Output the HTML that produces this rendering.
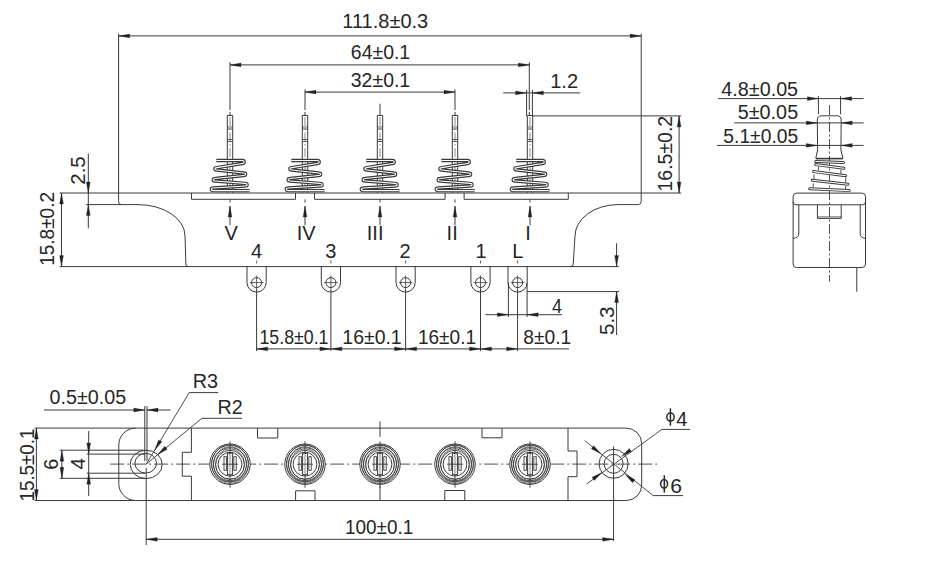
<!DOCTYPE html>
<html><head><meta charset="utf-8"><style>
html,body{margin:0;padding:0;background:#fff;}
svg{display:block;}
text{font-family:"Liberation Sans",sans-serif;fill:#262626;}
</style></head><body>
<svg width="945" height="569" viewBox="0 0 945 569">
<rect width="945" height="569" fill="#fff"/>
<line x1="118.60" y1="33.60" x2="118.60" y2="201.50" stroke="#3a3a3a" stroke-width="1.0" />
<path d="M118.6,201.5 Q118.6,204.6 121.6,204.6" stroke="#3a3a3a" stroke-width="1.0" fill="none" />
<line x1="641.20" y1="33.60" x2="641.20" y2="201.50" stroke="#3a3a3a" stroke-width="1.0" />
<path d="M641.2,201.5 Q641.2,204.6 638.2,204.6" stroke="#3a3a3a" stroke-width="1.0" fill="none" />
<line x1="118.60" y1="35.90" x2="641.20" y2="35.90" stroke="#3a3a3a" stroke-width="1.0" />
<path d="M118.60,35.90 L129.60,34.00 L129.60,37.80 Z" fill="#222" stroke="#222" stroke-width="0.3"/>
<path d="M641.20,35.90 L630.20,37.80 L630.20,34.00 Z" fill="#222" stroke="#222" stroke-width="0.3"/>
<text x="342.32" y="28.00" font-size="20" text-anchor="start" textLength="85.93" lengthAdjust="spacingAndGlyphs">111.8±0.3</text>
<line x1="230.00" y1="62.20" x2="230.00" y2="110.00" stroke="#3a3a3a" stroke-width="1.0" />
<line x1="230.00" y1="112.00" x2="230.00" y2="115.50" stroke="#3a3a3a" stroke-width="1.0" />
<line x1="529.30" y1="62.20" x2="529.30" y2="110.00" stroke="#3a3a3a" stroke-width="1.0" />
<line x1="529.30" y1="112.00" x2="529.30" y2="116.00" stroke="#3a3a3a" stroke-width="1.0" />
<line x1="230.00" y1="64.90" x2="529.30" y2="64.90" stroke="#3a3a3a" stroke-width="1.0" />
<path d="M230.00,64.90 L241.00,63.00 L241.00,66.80 Z" fill="#222" stroke="#222" stroke-width="0.3"/>
<path d="M529.30,64.90 L518.30,66.80 L518.30,63.00 Z" fill="#222" stroke="#222" stroke-width="0.3"/>
<text x="350.85" y="59.40" font-size="20" text-anchor="start" textLength="59.33" lengthAdjust="spacingAndGlyphs">64±0.1</text>
<line x1="305.00" y1="89.50" x2="305.00" y2="110.00" stroke="#3a3a3a" stroke-width="1.0" />
<line x1="455.00" y1="89.50" x2="455.00" y2="110.00" stroke="#3a3a3a" stroke-width="1.0" />
<line x1="305.00" y1="112.00" x2="305.00" y2="115.50" stroke="#3a3a3a" stroke-width="1.0" />
<line x1="455.00" y1="112.00" x2="455.00" y2="115.50" stroke="#3a3a3a" stroke-width="1.0" />
<line x1="380.00" y1="103.70" x2="380.00" y2="115.50" stroke="#3a3a3a" stroke-width="1.0" />
<line x1="305.00" y1="92.10" x2="455.00" y2="92.10" stroke="#3a3a3a" stroke-width="1.0" />
<path d="M305.00,92.10 L316.00,90.20 L316.00,94.00 Z" fill="#222" stroke="#222" stroke-width="0.3"/>
<path d="M455.00,92.10 L444.00,94.00 L444.00,90.20 Z" fill="#222" stroke="#222" stroke-width="0.3"/>
<text x="350.81" y="86.80" font-size="20" text-anchor="start" textLength="59.39" lengthAdjust="spacingAndGlyphs">32±0.1</text>
<line x1="526.60" y1="89.90" x2="526.60" y2="116.00" stroke="#3a3a3a" stroke-width="1.0" />
<line x1="532.40" y1="89.90" x2="532.40" y2="116.00" stroke="#3a3a3a" stroke-width="1.0" />
<line x1="503.20" y1="92.90" x2="580.20" y2="92.90" stroke="#3a3a3a" stroke-width="1.0" />
<path d="M526.60,92.90 L515.60,94.80 L515.60,91.00 Z" fill="#222" stroke="#222" stroke-width="0.3"/>
<path d="M532.40,92.90 L543.40,91.00 L543.40,94.80 Z" fill="#222" stroke="#222" stroke-width="0.3"/>
<text x="550.15" y="88.20" font-size="20" text-anchor="start" textLength="27.96" lengthAdjust="spacingAndGlyphs">1.2</text>
<line x1="532.40" y1="115.90" x2="681.20" y2="115.90" stroke="#3a3a3a" stroke-width="1.0" />
<line x1="641.20" y1="193.00" x2="681.20" y2="193.00" stroke="#3a3a3a" stroke-width="1.0" />
<line x1="679.10" y1="115.90" x2="679.10" y2="193.00" stroke="#3a3a3a" stroke-width="1.0" />
<path d="M679.10,115.90 L681.00,126.90 L677.20,126.90 Z" fill="#222" stroke="#222" stroke-width="0.3"/>
<path d="M679.10,193.00 L677.20,182.00 L681.00,182.00 Z" fill="#222" stroke="#222" stroke-width="0.3"/>
<text x="672.10" y="191.46" font-size="20" text-anchor="start" textLength="75.63" lengthAdjust="spacingAndGlyphs" transform="rotate(-90 672.10 191.46)">16.5±0.2</text>
<path d="M227.3,192.8 L227.3,115.5 L232.7,115.5 L232.7,192.8" stroke="#3a3a3a" stroke-width="1.0" fill="none" />
<line x1="227.30" y1="127.00" x2="232.70" y2="127.00" stroke="#3a3a3a" stroke-width="0.8" />
<line x1="227.30" y1="129.00" x2="232.70" y2="129.00" stroke="#3a3a3a" stroke-width="0.8" />
<line x1="227.30" y1="139.50" x2="232.70" y2="139.50" stroke="#3a3a3a" stroke-width="0.8" />
<line x1="227.30" y1="141.50" x2="232.70" y2="141.50" stroke="#3a3a3a" stroke-width="0.8" />
<line x1="230.00" y1="117.00" x2="230.00" y2="192.00" stroke="#3a3a3a" stroke-width="0.6" stroke-dasharray="9 2.5 1.5 2.5"/>
<path d="M216.3,160.5 L242.3,160.5 C244.9,160.5 244.9,163.5 242.3,163.5 L216.8,167.6 C214.2,167.6 214.2,170.0 216.8,170.0 L243.7,173.0 C246.3,173.0 246.3,175.5 243.7,175.5 L215.1,178.5 C212.5,178.5 212.5,181.0 215.1,181.0 L245.2,183.4 C247.8,183.4 247.8,186.0 245.2,186.0 L213.2,188.0 C210.6,188.0 210.6,190.6 213.2,190.6 L249.5,190.6" stroke="#3a3a3a" stroke-width="3.3" fill="none" stroke-linejoin="round" stroke-linecap="butt"/>
<path d="M216.3,160.5 L242.3,160.5 C244.9,160.5 244.9,163.5 242.3,163.5 L216.8,167.6 C214.2,167.6 214.2,170.0 216.8,170.0 L243.7,173.0 C246.3,173.0 246.3,175.5 243.7,175.5 L215.1,178.5 C212.5,178.5 212.5,181.0 215.1,181.0 L245.2,183.4 C247.8,183.4 247.8,186.0 245.2,186.0 L213.2,188.0 C210.6,188.0 210.6,190.6 213.2,190.6 L249.5,190.6" stroke="#ffffff" stroke-width="1.15" fill="none" stroke-linejoin="round" stroke-linecap="butt"/>
<path d="M302.3,192.8 L302.3,115.5 L307.7,115.5 L307.7,192.8" stroke="#3a3a3a" stroke-width="1.0" fill="none" />
<line x1="302.30" y1="127.00" x2="307.70" y2="127.00" stroke="#3a3a3a" stroke-width="0.8" />
<line x1="302.30" y1="129.00" x2="307.70" y2="129.00" stroke="#3a3a3a" stroke-width="0.8" />
<line x1="302.30" y1="139.50" x2="307.70" y2="139.50" stroke="#3a3a3a" stroke-width="0.8" />
<line x1="302.30" y1="141.50" x2="307.70" y2="141.50" stroke="#3a3a3a" stroke-width="0.8" />
<line x1="305.00" y1="117.00" x2="305.00" y2="192.00" stroke="#3a3a3a" stroke-width="0.6" stroke-dasharray="9 2.5 1.5 2.5"/>
<path d="M291.3,160.5 L317.3,160.5 C319.9,160.5 319.9,163.5 317.3,163.5 L291.8,167.6 C289.2,167.6 289.2,170.0 291.8,170.0 L318.7,173.0 C321.3,173.0 321.3,175.5 318.7,175.5 L290.1,178.5 C287.5,178.5 287.5,181.0 290.1,181.0 L320.2,183.4 C322.8,183.4 322.8,186.0 320.2,186.0 L288.2,188.0 C285.6,188.0 285.6,190.6 288.2,190.6 L324.5,190.6" stroke="#3a3a3a" stroke-width="3.3" fill="none" stroke-linejoin="round" stroke-linecap="butt"/>
<path d="M291.3,160.5 L317.3,160.5 C319.9,160.5 319.9,163.5 317.3,163.5 L291.8,167.6 C289.2,167.6 289.2,170.0 291.8,170.0 L318.7,173.0 C321.3,173.0 321.3,175.5 318.7,175.5 L290.1,178.5 C287.5,178.5 287.5,181.0 290.1,181.0 L320.2,183.4 C322.8,183.4 322.8,186.0 320.2,186.0 L288.2,188.0 C285.6,188.0 285.6,190.6 288.2,190.6 L324.5,190.6" stroke="#ffffff" stroke-width="1.15" fill="none" stroke-linejoin="round" stroke-linecap="butt"/>
<path d="M377.3,192.8 L377.3,115.5 L382.7,115.5 L382.7,192.8" stroke="#3a3a3a" stroke-width="1.0" fill="none" />
<line x1="377.30" y1="127.00" x2="382.70" y2="127.00" stroke="#3a3a3a" stroke-width="0.8" />
<line x1="377.30" y1="129.00" x2="382.70" y2="129.00" stroke="#3a3a3a" stroke-width="0.8" />
<line x1="377.30" y1="139.50" x2="382.70" y2="139.50" stroke="#3a3a3a" stroke-width="0.8" />
<line x1="377.30" y1="141.50" x2="382.70" y2="141.50" stroke="#3a3a3a" stroke-width="0.8" />
<line x1="380.00" y1="117.00" x2="380.00" y2="192.00" stroke="#3a3a3a" stroke-width="0.6" stroke-dasharray="9 2.5 1.5 2.5"/>
<path d="M366.3,160.5 L392.3,160.5 C394.9,160.5 394.9,163.5 392.3,163.5 L366.8,167.6 C364.2,167.6 364.2,170.0 366.8,170.0 L393.7,173.0 C396.3,173.0 396.3,175.5 393.7,175.5 L365.1,178.5 C362.5,178.5 362.5,181.0 365.1,181.0 L395.2,183.4 C397.8,183.4 397.8,186.0 395.2,186.0 L363.2,188.0 C360.6,188.0 360.6,190.6 363.2,190.6 L399.5,190.6" stroke="#3a3a3a" stroke-width="3.3" fill="none" stroke-linejoin="round" stroke-linecap="butt"/>
<path d="M366.3,160.5 L392.3,160.5 C394.9,160.5 394.9,163.5 392.3,163.5 L366.8,167.6 C364.2,167.6 364.2,170.0 366.8,170.0 L393.7,173.0 C396.3,173.0 396.3,175.5 393.7,175.5 L365.1,178.5 C362.5,178.5 362.5,181.0 365.1,181.0 L395.2,183.4 C397.8,183.4 397.8,186.0 395.2,186.0 L363.2,188.0 C360.6,188.0 360.6,190.6 363.2,190.6 L399.5,190.6" stroke="#ffffff" stroke-width="1.15" fill="none" stroke-linejoin="round" stroke-linecap="butt"/>
<path d="M452.3,192.8 L452.3,115.5 L457.7,115.5 L457.7,192.8" stroke="#3a3a3a" stroke-width="1.0" fill="none" />
<line x1="452.30" y1="127.00" x2="457.70" y2="127.00" stroke="#3a3a3a" stroke-width="0.8" />
<line x1="452.30" y1="129.00" x2="457.70" y2="129.00" stroke="#3a3a3a" stroke-width="0.8" />
<line x1="452.30" y1="139.50" x2="457.70" y2="139.50" stroke="#3a3a3a" stroke-width="0.8" />
<line x1="452.30" y1="141.50" x2="457.70" y2="141.50" stroke="#3a3a3a" stroke-width="0.8" />
<line x1="455.00" y1="117.00" x2="455.00" y2="192.00" stroke="#3a3a3a" stroke-width="0.6" stroke-dasharray="9 2.5 1.5 2.5"/>
<path d="M441.3,160.5 L467.3,160.5 C469.9,160.5 469.9,163.5 467.3,163.5 L441.8,167.6 C439.2,167.6 439.2,170.0 441.8,170.0 L468.7,173.0 C471.3,173.0 471.3,175.5 468.7,175.5 L440.1,178.5 C437.5,178.5 437.5,181.0 440.1,181.0 L470.2,183.4 C472.8,183.4 472.8,186.0 470.2,186.0 L438.2,188.0 C435.6,188.0 435.6,190.6 438.2,190.6 L474.5,190.6" stroke="#3a3a3a" stroke-width="3.3" fill="none" stroke-linejoin="round" stroke-linecap="butt"/>
<path d="M441.3,160.5 L467.3,160.5 C469.9,160.5 469.9,163.5 467.3,163.5 L441.8,167.6 C439.2,167.6 439.2,170.0 441.8,170.0 L468.7,173.0 C471.3,173.0 471.3,175.5 468.7,175.5 L440.1,178.5 C437.5,178.5 437.5,181.0 440.1,181.0 L470.2,183.4 C472.8,183.4 472.8,186.0 470.2,186.0 L438.2,188.0 C435.6,188.0 435.6,190.6 438.2,190.6 L474.5,190.6" stroke="#ffffff" stroke-width="1.15" fill="none" stroke-linejoin="round" stroke-linecap="butt"/>
<path d="M527.3,192.8 L527.3,115.5 L532.7,115.5 L532.7,192.8" stroke="#3a3a3a" stroke-width="1.0" fill="none" />
<line x1="527.30" y1="127.00" x2="532.70" y2="127.00" stroke="#3a3a3a" stroke-width="0.8" />
<line x1="527.30" y1="129.00" x2="532.70" y2="129.00" stroke="#3a3a3a" stroke-width="0.8" />
<line x1="527.30" y1="139.50" x2="532.70" y2="139.50" stroke="#3a3a3a" stroke-width="0.8" />
<line x1="527.30" y1="141.50" x2="532.70" y2="141.50" stroke="#3a3a3a" stroke-width="0.8" />
<line x1="530.00" y1="117.00" x2="530.00" y2="192.00" stroke="#3a3a3a" stroke-width="0.6" stroke-dasharray="9 2.5 1.5 2.5"/>
<path d="M516.3,160.5 L542.3,160.5 C544.9,160.5 544.9,163.5 542.3,163.5 L516.8,167.6 C514.2,167.6 514.2,170.0 516.8,170.0 L543.7,173.0 C546.3,173.0 546.3,175.5 543.7,175.5 L515.1,178.5 C512.5,178.5 512.5,181.0 515.1,181.0 L545.2,183.4 C547.8,183.4 547.8,186.0 545.2,186.0 L513.2,188.0 C510.6,188.0 510.6,190.6 513.2,190.6 L549.5,190.6" stroke="#3a3a3a" stroke-width="3.3" fill="none" stroke-linejoin="round" stroke-linecap="butt"/>
<path d="M516.3,160.5 L542.3,160.5 C544.9,160.5 544.9,163.5 542.3,163.5 L516.8,167.6 C514.2,167.6 514.2,170.0 516.8,170.0 L543.7,173.0 C546.3,173.0 546.3,175.5 543.7,175.5 L515.1,178.5 C512.5,178.5 512.5,181.0 515.1,181.0 L545.2,183.4 C547.8,183.4 547.8,186.0 545.2,186.0 L513.2,188.0 C510.6,188.0 510.6,190.6 513.2,190.6 L549.5,190.6" stroke="#ffffff" stroke-width="1.15" fill="none" stroke-linejoin="round" stroke-linecap="butt"/>
<line x1="59.60" y1="193.00" x2="641.20" y2="193.00" stroke="#3a3a3a" stroke-width="1.0" />
<path d="M191.5,193 L191.5,199.3 L295.5,199.3 L295.5,193" stroke="#3a3a3a" stroke-width="1.0" fill="none" />
<path d="M314.5,193 L314.5,199.3 L445.1,199.3 L445.1,193" stroke="#3a3a3a" stroke-width="1.0" fill="none" />
<path d="M464.1,193 L464.1,199.3 L568.3,199.3 L568.3,193" stroke="#3a3a3a" stroke-width="1.0" fill="none" />
<path d="M121.6,204.6 L138,204.6 A47,31.3 0 0 1 185,235.9 L185.9,265 Q186.2,266.6 189,266.6" stroke="#3a3a3a" stroke-width="1.0" fill="none" />
<path d="M638.2,204.6 L618,204.6 A43,31.6 0 0 0 575,236.2 L573.2,264.3 Q572.8,266.6 570,266.6" stroke="#3a3a3a" stroke-width="1.0" fill="none" />
<line x1="86.10" y1="204.60" x2="121.60" y2="204.60" stroke="#3a3a3a" stroke-width="1.0" />
<line x1="59.60" y1="266.60" x2="618.80" y2="266.60" stroke="#3a3a3a" stroke-width="1.0" />
<line x1="61.50" y1="193.00" x2="61.50" y2="266.60" stroke="#3a3a3a" stroke-width="1.0" />
<path d="M61.50,193.00 L63.40,204.00 L59.60,204.00 Z" fill="#222" stroke="#222" stroke-width="0.3"/>
<path d="M61.50,266.60 L59.60,255.60 L63.40,255.60 Z" fill="#222" stroke="#222" stroke-width="0.3"/>
<text x="53.80" y="265.87" font-size="20" text-anchor="start" textLength="73.91" lengthAdjust="spacingAndGlyphs" transform="rotate(-90 53.80 265.87)">15.8±0.2</text>
<line x1="88.30" y1="153.50" x2="88.30" y2="228.30" stroke="#3a3a3a" stroke-width="1.0" />
<path d="M88.30,193.00 L86.40,182.00 L90.20,182.00 Z" fill="#222" stroke="#222" stroke-width="0.3"/>
<path d="M88.30,204.60 L90.20,215.60 L86.40,215.60 Z" fill="#222" stroke="#222" stroke-width="0.3"/>
<text x="84.90" y="184.75" font-size="20" text-anchor="start" textLength="28.50" lengthAdjust="spacingAndGlyphs" transform="rotate(-90 84.90 184.75)">2.5</text>
<line x1="230.00" y1="199.30" x2="230.00" y2="202.60" stroke="#3a3a3a" stroke-width="0.9" />
<line x1="230.00" y1="206.00" x2="230.00" y2="225.30" stroke="#3a3a3a" stroke-width="1.0" />
<path d="M230.00,206.00 L231.90,217.00 L228.10,217.00 Z" fill="#222" stroke="#222" stroke-width="0.3"/>
<text x="224.40" y="240.30" font-size="20" text-anchor="start" textLength="13.34" lengthAdjust="spacingAndGlyphs">V</text>
<line x1="305.00" y1="199.30" x2="305.00" y2="202.60" stroke="#3a3a3a" stroke-width="0.9" />
<line x1="305.00" y1="206.00" x2="305.00" y2="225.30" stroke="#3a3a3a" stroke-width="1.0" />
<path d="M305.00,206.00 L306.90,217.00 L303.10,217.00 Z" fill="#222" stroke="#222" stroke-width="0.3"/>
<text x="296.80" y="240.30" font-size="20" text-anchor="start" textLength="18.90" lengthAdjust="spacingAndGlyphs">IV</text>
<line x1="380.00" y1="199.30" x2="380.00" y2="202.60" stroke="#3a3a3a" stroke-width="0.9" />
<line x1="380.00" y1="206.00" x2="380.00" y2="225.30" stroke="#3a3a3a" stroke-width="1.0" />
<path d="M380.00,206.00 L381.90,217.00 L378.10,217.00 Z" fill="#222" stroke="#222" stroke-width="0.3"/>
<text x="366.80" y="240.30" font-size="20" text-anchor="start" textLength="16.67" lengthAdjust="spacingAndGlyphs">III</text>
<line x1="455.00" y1="199.30" x2="455.00" y2="202.60" stroke="#3a3a3a" stroke-width="0.9" />
<line x1="455.00" y1="206.00" x2="455.00" y2="225.30" stroke="#3a3a3a" stroke-width="1.0" />
<path d="M455.00,206.00 L456.90,217.00 L453.10,217.00 Z" fill="#222" stroke="#222" stroke-width="0.3"/>
<text x="446.60" y="240.30" font-size="20" text-anchor="start" textLength="11.11" lengthAdjust="spacingAndGlyphs">II</text>
<line x1="530.00" y1="199.30" x2="530.00" y2="202.60" stroke="#3a3a3a" stroke-width="0.9" />
<line x1="530.00" y1="206.00" x2="530.00" y2="225.30" stroke="#3a3a3a" stroke-width="1.0" />
<path d="M530.00,206.00 L531.90,217.00 L528.10,217.00 Z" fill="#222" stroke="#222" stroke-width="0.3"/>
<text x="525.20" y="240.30" font-size="20" text-anchor="start" textLength="5.56" lengthAdjust="spacingAndGlyphs">I</text>
<path d="M247.00000000000003,266.6 L247.00000000000003,282.5 A9.6,9.6 0 0 0 266.20000000000005,282.5 L266.20000000000005,266.6" stroke="#3a3a3a" stroke-width="1.0" fill="none" />
<circle cx="256.6" cy="282.6" r="5" stroke="#3a3a3a" stroke-width="1" fill="none"/>
<line x1="249.80" y1="282.60" x2="263.40" y2="282.60" stroke="#3a3a3a" stroke-width="0.8" />
<line x1="256.60" y1="275.50" x2="256.60" y2="289.00" stroke="#3a3a3a" stroke-width="0.8" />
<text x="250.90" y="257.60" font-size="20" text-anchor="start" textLength="11.12" lengthAdjust="spacingAndGlyphs">4</text>
<line x1="256.60" y1="260.50" x2="256.60" y2="263.50" stroke="#3a3a3a" stroke-width="0.8" />
<line x1="256.60" y1="289.00" x2="256.60" y2="351.00" stroke="#3a3a3a" stroke-width="1.0" />
<path d="M321.29999999999995,266.6 L321.29999999999995,282.5 A9.6,9.6 0 0 0 340.5,282.5 L340.5,266.6" stroke="#3a3a3a" stroke-width="1.0" fill="none" />
<circle cx="330.9" cy="282.6" r="5" stroke="#3a3a3a" stroke-width="1" fill="none"/>
<line x1="324.10" y1="282.60" x2="337.70" y2="282.60" stroke="#3a3a3a" stroke-width="0.8" />
<line x1="330.90" y1="275.50" x2="330.90" y2="289.00" stroke="#3a3a3a" stroke-width="0.8" />
<text x="325.30" y="257.60" font-size="20" text-anchor="start" textLength="11.12" lengthAdjust="spacingAndGlyphs">3</text>
<line x1="330.90" y1="260.50" x2="330.90" y2="263.50" stroke="#3a3a3a" stroke-width="0.8" />
<line x1="330.90" y1="289.00" x2="330.90" y2="351.00" stroke="#3a3a3a" stroke-width="1.0" />
<path d="M396.0,266.6 L396.0,282.5 A9.6,9.6 0 0 0 415.20000000000005,282.5 L415.20000000000005,266.6" stroke="#3a3a3a" stroke-width="1.0" fill="none" />
<circle cx="405.6" cy="282.6" r="5" stroke="#3a3a3a" stroke-width="1" fill="none"/>
<line x1="398.80" y1="282.60" x2="412.40" y2="282.60" stroke="#3a3a3a" stroke-width="0.8" />
<line x1="405.60" y1="275.50" x2="405.60" y2="289.00" stroke="#3a3a3a" stroke-width="0.8" />
<text x="399.60" y="257.60" font-size="20" text-anchor="start" textLength="11.12" lengthAdjust="spacingAndGlyphs">2</text>
<line x1="405.60" y1="260.50" x2="405.60" y2="263.50" stroke="#3a3a3a" stroke-width="0.8" />
<line x1="405.60" y1="289.00" x2="405.60" y2="351.00" stroke="#3a3a3a" stroke-width="1.0" />
<path d="M470.9,266.6 L470.9,282.5 A9.6,9.6 0 0 0 490.1,282.5 L490.1,266.6" stroke="#3a3a3a" stroke-width="1.0" fill="none" />
<circle cx="480.5" cy="282.6" r="5" stroke="#3a3a3a" stroke-width="1" fill="none"/>
<line x1="473.70" y1="282.60" x2="487.30" y2="282.60" stroke="#3a3a3a" stroke-width="0.8" />
<line x1="480.50" y1="275.50" x2="480.50" y2="289.00" stroke="#3a3a3a" stroke-width="0.8" />
<text x="475.50" y="257.60" font-size="20" text-anchor="start" textLength="11.12" lengthAdjust="spacingAndGlyphs">1</text>
<line x1="480.50" y1="260.50" x2="480.50" y2="263.50" stroke="#3a3a3a" stroke-width="0.8" />
<line x1="480.50" y1="289.00" x2="480.50" y2="351.00" stroke="#3a3a3a" stroke-width="1.0" />
<path d="M508.0,266.6 L508.0,282.5 A9.6,9.6 0 0 0 527.2,282.5 L527.2,266.6" stroke="#3a3a3a" stroke-width="1.0" fill="none" />
<circle cx="517.6" cy="282.6" r="5" stroke="#3a3a3a" stroke-width="1" fill="none"/>
<line x1="510.80" y1="282.60" x2="524.40" y2="282.60" stroke="#3a3a3a" stroke-width="0.8" />
<line x1="517.60" y1="275.50" x2="517.60" y2="289.00" stroke="#3a3a3a" stroke-width="0.8" />
<text x="512.20" y="257.60" font-size="20" text-anchor="start" textLength="11.12" lengthAdjust="spacingAndGlyphs">L</text>
<line x1="517.60" y1="260.50" x2="517.60" y2="263.50" stroke="#3a3a3a" stroke-width="0.8" />
<line x1="517.60" y1="289.00" x2="517.60" y2="351.00" stroke="#3a3a3a" stroke-width="1.0" />
<line x1="256.60" y1="348.90" x2="517.60" y2="348.90" stroke="#3a3a3a" stroke-width="1.0" />
<path d="M256.60,348.90 L267.60,347.00 L267.60,350.80 Z" fill="#222" stroke="#222" stroke-width="0.3"/>
<path d="M330.90,348.90 L319.90,350.80 L319.90,347.00 Z" fill="#222" stroke="#222" stroke-width="0.3"/>
<path d="M330.90,348.90 L341.90,347.00 L341.90,350.80 Z" fill="#222" stroke="#222" stroke-width="0.3"/>
<path d="M405.60,348.90 L394.60,350.80 L394.60,347.00 Z" fill="#222" stroke="#222" stroke-width="0.3"/>
<path d="M405.60,348.90 L416.60,347.00 L416.60,350.80 Z" fill="#222" stroke="#222" stroke-width="0.3"/>
<path d="M480.50,348.90 L469.50,350.80 L469.50,347.00 Z" fill="#222" stroke="#222" stroke-width="0.3"/>
<path d="M480.50,348.90 L491.50,347.00 L491.50,350.80 Z" fill="#222" stroke="#222" stroke-width="0.3"/>
<path d="M517.60,348.90 L506.60,350.80 L506.60,347.00 Z" fill="#222" stroke="#222" stroke-width="0.3"/>
<line x1="517.60" y1="348.90" x2="569.00" y2="348.90" stroke="#3a3a3a" stroke-width="1.0" />
<text x="259.51" y="344.00" font-size="20" text-anchor="start" textLength="68.98" lengthAdjust="spacingAndGlyphs">15.8±0.1</text>
<text x="342.34" y="344.00" font-size="20" text-anchor="start" textLength="59.34" lengthAdjust="spacingAndGlyphs">16±0.1</text>
<text x="417.96" y="344.00" font-size="20" text-anchor="start" textLength="58.07" lengthAdjust="spacingAndGlyphs">16±0.1</text>
<text x="523.32" y="344.00" font-size="20" text-anchor="start" textLength="47.96" lengthAdjust="spacingAndGlyphs">8±0.1</text>
<line x1="508.40" y1="282.50" x2="508.40" y2="317.00" stroke="#3a3a3a" stroke-width="1.0" />
<line x1="527.10" y1="282.50" x2="527.10" y2="317.00" stroke="#3a3a3a" stroke-width="1.0" />
<line x1="485.30" y1="314.70" x2="562.00" y2="314.70" stroke="#3a3a3a" stroke-width="1.0" />
<path d="M508.40,314.70 L497.40,316.60 L497.40,312.80 Z" fill="#222" stroke="#222" stroke-width="0.3"/>
<path d="M527.10,314.70 L538.10,312.80 L538.10,316.60 Z" fill="#222" stroke="#222" stroke-width="0.3"/>
<text x="552.00" y="313.10" font-size="20" text-anchor="start" textLength="10.00" lengthAdjust="spacingAndGlyphs">4</text>
<line x1="527.10" y1="291.60" x2="619.00" y2="291.60" stroke="#3a3a3a" stroke-width="1.0" />
<line x1="616.60" y1="243.20" x2="616.60" y2="266.60" stroke="#3a3a3a" stroke-width="1.0" />
<path d="M616.60,266.60 L614.70,255.60 L618.50,255.60 Z" fill="#222" stroke="#222" stroke-width="0.3"/>
<line x1="616.60" y1="291.60" x2="616.60" y2="335.00" stroke="#3a3a3a" stroke-width="1.0" />
<path d="M616.60,291.60 L618.50,302.60 L614.70,302.60 Z" fill="#222" stroke="#222" stroke-width="0.3"/>
<text x="614.20" y="335.08" font-size="20" text-anchor="start" textLength="28.70" lengthAdjust="spacingAndGlyphs" transform="rotate(-90 614.20 335.08)">5.3</text>
<text x="721.36" y="95.70" font-size="20" text-anchor="start" textLength="76.76" lengthAdjust="spacingAndGlyphs">4.8±0.05</text>
<line x1="718.20" y1="98.60" x2="863.60" y2="98.60" stroke="#3a3a3a" stroke-width="1.0" />
<path d="M818.40,98.60 L807.40,100.50 L807.40,96.70 Z" fill="#222" stroke="#222" stroke-width="0.3"/>
<path d="M840.60,98.60 L851.60,96.70 L851.60,100.50 Z" fill="#222" stroke="#222" stroke-width="0.3"/>
<text x="737.76" y="118.50" font-size="20" text-anchor="start" textLength="60.39" lengthAdjust="spacingAndGlyphs">5±0.05</text>
<line x1="734.30" y1="122.90" x2="863.60" y2="122.90" stroke="#3a3a3a" stroke-width="1.0" />
<path d="M817.30,122.90 L806.30,124.80 L806.30,121.00 Z" fill="#222" stroke="#222" stroke-width="0.3"/>
<path d="M841.20,122.90 L852.20,121.00 L852.20,124.80 Z" fill="#222" stroke="#222" stroke-width="0.3"/>
<text x="723.36" y="143.30" font-size="20" text-anchor="start" textLength="74.80" lengthAdjust="spacingAndGlyphs">5.1±0.05</text>
<line x1="717.00" y1="145.40" x2="863.60" y2="145.40" stroke="#3a3a3a" stroke-width="1.0" />
<path d="M817.30,145.40 L806.30,147.30 L806.30,143.50 Z" fill="#222" stroke="#222" stroke-width="0.3"/>
<path d="M841.20,145.40 L852.20,143.50 L852.20,147.30 Z" fill="#222" stroke="#222" stroke-width="0.3"/>
<line x1="818.40" y1="96.10" x2="818.40" y2="114.30" stroke="#3a3a3a" stroke-width="1.0" />
<line x1="840.60" y1="96.10" x2="840.60" y2="114.30" stroke="#3a3a3a" stroke-width="1.0" />
<path d="M817.6,150 L817.3,120 Q817.3,115.8 821.5,115.8 L837,115.8 Q841.2,115.8 841.2,120 L840.9,150 L843,158.3 M817.6,150 L815.8,158.3" stroke="#3a3a3a" stroke-width="1.0" fill="none" />
<line x1="815.80" y1="158.60" x2="843.00" y2="158.60" stroke="#3a3a3a" stroke-width="1.6" />
<line x1="829.50" y1="105.00" x2="829.50" y2="281.50" stroke="#3a3a3a" stroke-width="0.9" stroke-dasharray="10 2.5 2 2.5"/>
<path d="M815.8,161.5 L843.5,162.5" stroke="#3a3a3a" stroke-width="3.0" fill="none" stroke-linecap="round"/>
<path d="M815.8,161.5 L843.5,162.5" stroke="#ffffff" stroke-width="1.1" fill="none" stroke-linecap="round"/>
<path d="M815.8,164.6 L843.9,168.2" stroke="#3a3a3a" stroke-width="3.0" fill="none" stroke-linecap="round"/>
<path d="M815.8,164.6 L843.9,168.2" stroke="#ffffff" stroke-width="1.1" fill="none" stroke-linecap="round"/>
<path d="M813.6,171.6 L845.7,175.8" stroke="#3a3a3a" stroke-width="3.0" fill="none" stroke-linecap="round"/>
<path d="M813.6,171.6 L845.7,175.8" stroke="#ffffff" stroke-width="1.1" fill="none" stroke-linecap="round"/>
<path d="M812.3,180.2 L847.9,184.2" stroke="#3a3a3a" stroke-width="3.0" fill="none" stroke-linecap="round"/>
<path d="M812.3,180.2 L847.9,184.2" stroke="#ffffff" stroke-width="1.1" fill="none" stroke-linecap="round"/>
<path d="M809.7,188.8 L849.2,190.6" stroke="#3a3a3a" stroke-width="3.0" fill="none" stroke-linecap="round"/>
<path d="M809.7,188.8 L849.2,190.6" stroke="#ffffff" stroke-width="1.1" fill="none" stroke-linecap="round"/>
<line x1="818.50" y1="166.50" x2="818.50" y2="170.20" stroke="#3a3a3a" stroke-width="0.9" />
<line x1="840.90" y1="169.80" x2="840.90" y2="174.00" stroke="#3a3a3a" stroke-width="0.9" />
<line x1="814.00" y1="174.60" x2="814.00" y2="179.00" stroke="#3a3a3a" stroke-width="0.9" />
<line x1="845.70" y1="177.50" x2="845.70" y2="182.50" stroke="#3a3a3a" stroke-width="0.9" />
<line x1="813.20" y1="183.40" x2="813.20" y2="187.50" stroke="#3a3a3a" stroke-width="0.9" />
<line x1="845.70" y1="186.00" x2="845.70" y2="189.00" stroke="#3a3a3a" stroke-width="0.9" />
<path d="M796.6,193.1 L862,193.1 Q865.5,193.1 865.5,196.6 L865.5,264 Q865.5,267.5 862,267.5 L796.6,267.5 Q793.1,267.5 793.1,264 L793.1,196.6 Q793.1,193.1 796.6,193.1 Z" stroke="#3a3a3a" stroke-width="1.0" fill="none" />
<path d="M793.1,201.8 Q793.1,204.8 796.1,204.8 L862.5,204.8 Q865.5,204.8 865.5,201.8" stroke="#3a3a3a" stroke-width="1.0" fill="none" />
<path d="M798.8,204.8 L798.8,234 Q798.8,237.5 793.1,238.5" stroke="#3a3a3a" stroke-width="1.0" fill="none" />
<path d="M860.2,204.8 L860.2,234 Q860.2,237.5 865.5,238.5" stroke="#3a3a3a" stroke-width="1.0" fill="none" />
<path d="M817.4,204.8 L817.4,218.4 L841.2,218.4 L841.2,204.8" stroke="#3a3a3a" stroke-width="1.0" fill="none" />
<line x1="817.40" y1="216.90" x2="841.20" y2="216.90" stroke="#3a3a3a" stroke-width="0.8" />
<line x1="856.80" y1="267.20" x2="856.80" y2="291.80" stroke="#3a3a3a" stroke-width="1.0" />
<path d="M135.6,428.1 L626.2,428.1 A15.5,15.5 0 0 1 641.7,443.6 L641.7,485 A15.5,15.5 0 0 1 626.2,500.5 L135.6,500.5 A17,17 0 0 1 118.8,483.5 L118.8,445.1 A17,17 0 0 1 135.6,428.1 Z" stroke="#3a3a3a" stroke-width="1.0" fill="none" />
<line x1="34.50" y1="428.10" x2="135.60" y2="428.10" stroke="#3a3a3a" stroke-width="1.0" />
<line x1="34.50" y1="500.50" x2="135.60" y2="500.50" stroke="#3a3a3a" stroke-width="1.0" />
<line x1="36.40" y1="428.10" x2="36.40" y2="500.50" stroke="#3a3a3a" stroke-width="1.0" />
<path d="M36.40,428.10 L38.30,439.10 L34.50,439.10 Z" fill="#222" stroke="#222" stroke-width="0.3"/>
<path d="M36.40,500.50 L34.50,489.50 L38.30,489.50 Z" fill="#222" stroke="#222" stroke-width="0.3"/>
<text x="34.50" y="501.49" font-size="20" text-anchor="start" textLength="72.97" lengthAdjust="spacingAndGlyphs" transform="rotate(-90 34.50 501.49)">15.5±0.1</text>
<line x1="59.80" y1="450.20" x2="145.00" y2="450.20" stroke="#3a3a3a" stroke-width="1.0" />
<line x1="59.80" y1="478.30" x2="145.00" y2="478.30" stroke="#3a3a3a" stroke-width="1.0" />
<line x1="61.90" y1="450.20" x2="61.90" y2="478.30" stroke="#3a3a3a" stroke-width="1.0" />
<path d="M61.90,450.20 L63.80,461.20 L60.00,461.20 Z" fill="#222" stroke="#222" stroke-width="0.3"/>
<path d="M61.90,478.30 L60.00,467.30 L63.80,467.30 Z" fill="#222" stroke="#222" stroke-width="0.3"/>
<text x="57.90" y="469.68" font-size="20" text-anchor="start" textLength="11.01" lengthAdjust="spacingAndGlyphs" transform="rotate(-90 57.90 469.68)">6</text>
<line x1="86.70" y1="454.10" x2="145.00" y2="454.10" stroke="#3a3a3a" stroke-width="1.0" />
<line x1="86.70" y1="473.20" x2="145.00" y2="473.20" stroke="#3a3a3a" stroke-width="1.0" />
<line x1="88.70" y1="431.00" x2="88.70" y2="496.00" stroke="#3a3a3a" stroke-width="1.0" />
<path d="M88.70,454.10 L86.80,443.10 L90.60,443.10 Z" fill="#222" stroke="#222" stroke-width="0.3"/>
<path d="M88.70,473.20 L90.60,484.20 L86.80,484.20 Z" fill="#222" stroke="#222" stroke-width="0.3"/>
<text x="85.00" y="469.51" font-size="20" text-anchor="start" textLength="11.47" lengthAdjust="spacingAndGlyphs" transform="rotate(-90 85.00 469.51)">4</text>
<ellipse cx="146.2" cy="464.4" rx="16" ry="14.2" stroke="#3a3a3a" stroke-width="1" fill="none"/>
<ellipse cx="145.7" cy="463.2" rx="10.8" ry="9.85" stroke="#3a3a3a" stroke-width="1" fill="none"/>
<line x1="144.80" y1="406.00" x2="144.80" y2="461.00" stroke="#3a3a3a" stroke-width="1.0" />
<line x1="147.00" y1="406.00" x2="147.00" y2="461.00" stroke="#3a3a3a" stroke-width="1.0" />
<line x1="43.90" y1="410.00" x2="144.80" y2="410.00" stroke="#3a3a3a" stroke-width="1.0" />
<path d="M144.80,410.00 L133.80,411.90 L133.80,408.10 Z" fill="#222" stroke="#222" stroke-width="0.3"/>
<line x1="147.00" y1="410.00" x2="170.50" y2="410.00" stroke="#3a3a3a" stroke-width="1.0" />
<path d="M147.00,410.00 L158.00,408.10 L158.00,411.90 Z" fill="#222" stroke="#222" stroke-width="0.3"/>
<text x="49.60" y="404.10" font-size="20" text-anchor="start" textLength="76.58" lengthAdjust="spacingAndGlyphs">0.5±0.05</text>
<line x1="146.20" y1="468.00" x2="146.20" y2="545.00" stroke="#3a3a3a" stroke-width="1.0" />
<line x1="189.20" y1="392.60" x2="218.20" y2="392.60" stroke="#3a3a3a" stroke-width="1.0" />
<line x1="189.20" y1="392.60" x2="146.30" y2="464.10" stroke="#3a3a3a" stroke-width="0.9" />
<path d="M154.60,450.30 L158.63,439.89 L161.89,441.85 Z" fill="#222" stroke="#222" stroke-width="0.3"/>
<text x="192.74" y="387.80" font-size="20" text-anchor="start" textLength="25.31" lengthAdjust="spacingAndGlyphs">R3</text>
<line x1="201.90" y1="418.30" x2="242.00" y2="418.30" stroke="#3a3a3a" stroke-width="1.0" />
<line x1="201.90" y1="418.30" x2="146.20" y2="464.10" stroke="#3a3a3a" stroke-width="0.9" />
<path d="M157.50,454.80 L164.79,446.35 L167.20,449.28 Z" fill="#222" stroke="#222" stroke-width="0.3"/>
<text x="217.40" y="413.70" font-size="20" text-anchor="start" textLength="25.26" lengthAdjust="spacingAndGlyphs">R2</text>
<path d="M191.4,428.1 L191.4,452.3 L182.3,452.3 L182.3,476.2 L191.4,476.2 L191.4,500.5" stroke="#3a3a3a" stroke-width="1.0" fill="none" />
<path d="M568,428.1 L568,451 L577,451 L577,476.7 L568,476.7 L568,500.5" stroke="#3a3a3a" stroke-width="1.0" fill="none" />
<path d="M257.5,428.1 L257.5,438 L277.8,438 L277.8,428.1" stroke="#3a3a3a" stroke-width="1.0" fill="none" />
<path d="M482,428.1 L482,437.8 L502,437.8 L502,428.1" stroke="#3a3a3a" stroke-width="1.0" fill="none" />
<path d="M295.6,500.5 L295.6,490.8 L315,490.8 L315,500.5" stroke="#3a3a3a" stroke-width="1.0" fill="none" />
<path d="M444.8,500.5 L444.8,490.5 L464.8,490.5 L464.8,500.5" stroke="#3a3a3a" stroke-width="1.0" fill="none" />
<line x1="380.00" y1="421.40" x2="380.00" y2="436.70" stroke="#3a3a3a" stroke-width="1.0" />
<line x1="380.00" y1="486.00" x2="380.00" y2="500.50" stroke="#3a3a3a" stroke-width="1.0" />
<line x1="110.20" y1="464.10" x2="657.10" y2="464.10" stroke="#3a3a3a" stroke-width="0.9" stroke-dasharray="14 3 2 3"/>
<circle cx="230" cy="464.2" r="20.2" stroke="#3a3a3a" stroke-width="1" fill="#fff"/>
<circle cx="230" cy="463.70" r="18.4" stroke="#3a3a3a" stroke-width="0.9" fill="none"/>
<circle cx="230" cy="464.20" r="16.5" stroke="#3a3a3a" stroke-width="0.9" fill="none"/>
<circle cx="230" cy="464.70" r="14.4" stroke="#3a3a3a" stroke-width="0.9" fill="none"/>
<ellipse cx="230" cy="464.2" rx="18.400000000000002" ry="19.3" stroke="#3a3a3a" stroke-width="0.7" fill="none"/>
<ellipse cx="230" cy="464.2" rx="16.5" ry="17.4" stroke="#3a3a3a" stroke-width="0.7" fill="none"/>
<ellipse cx="230" cy="464.2" rx="14.5" ry="15.4" stroke="#3a3a3a" stroke-width="0.7" fill="none"/>
<circle cx="230" cy="464.2" r="11.9" stroke="#3a3a3a" stroke-width="1" fill="#fff"/>
<line x1="230.00" y1="441.30" x2="230.00" y2="487.70" stroke="#3a3a3a" stroke-width="0.9" />
<rect x="227.6" y="453.2" width="4.8" height="21.5" stroke="#3a3a3a" stroke-width="1" fill="#fff"/>
<rect x="224.0" y="456.7" width="2.4" height="13.6" stroke="#3a3a3a" stroke-width="0.9" fill="none"/>
<rect x="233.8" y="456.7" width="2.4" height="13.6" stroke="#3a3a3a" stroke-width="0.9" fill="none"/>
<line x1="222.00" y1="464.20" x2="238.00" y2="464.20" stroke="#3a3a3a" stroke-width="0.9" />
<line x1="230.00" y1="453.20" x2="230.00" y2="474.70" stroke="#3a3a3a" stroke-width="0.6" />
<circle cx="305" cy="464.2" r="20.2" stroke="#3a3a3a" stroke-width="1" fill="#fff"/>
<circle cx="305" cy="463.70" r="18.4" stroke="#3a3a3a" stroke-width="0.9" fill="none"/>
<circle cx="305" cy="464.20" r="16.5" stroke="#3a3a3a" stroke-width="0.9" fill="none"/>
<circle cx="305" cy="464.70" r="14.4" stroke="#3a3a3a" stroke-width="0.9" fill="none"/>
<ellipse cx="305" cy="464.2" rx="18.400000000000002" ry="19.3" stroke="#3a3a3a" stroke-width="0.7" fill="none"/>
<ellipse cx="305" cy="464.2" rx="16.5" ry="17.4" stroke="#3a3a3a" stroke-width="0.7" fill="none"/>
<ellipse cx="305" cy="464.2" rx="14.5" ry="15.4" stroke="#3a3a3a" stroke-width="0.7" fill="none"/>
<circle cx="305" cy="464.2" r="11.9" stroke="#3a3a3a" stroke-width="1" fill="#fff"/>
<line x1="305.00" y1="441.30" x2="305.00" y2="487.70" stroke="#3a3a3a" stroke-width="0.9" />
<rect x="302.6" y="453.2" width="4.8" height="21.5" stroke="#3a3a3a" stroke-width="1" fill="#fff"/>
<rect x="299.0" y="456.7" width="2.4" height="13.6" stroke="#3a3a3a" stroke-width="0.9" fill="none"/>
<rect x="308.8" y="456.7" width="2.4" height="13.6" stroke="#3a3a3a" stroke-width="0.9" fill="none"/>
<line x1="297.00" y1="464.20" x2="313.00" y2="464.20" stroke="#3a3a3a" stroke-width="0.9" />
<line x1="305.00" y1="453.20" x2="305.00" y2="474.70" stroke="#3a3a3a" stroke-width="0.6" />
<circle cx="380" cy="464.2" r="20.2" stroke="#3a3a3a" stroke-width="1" fill="#fff"/>
<circle cx="380" cy="463.70" r="18.4" stroke="#3a3a3a" stroke-width="0.9" fill="none"/>
<circle cx="380" cy="464.20" r="16.5" stroke="#3a3a3a" stroke-width="0.9" fill="none"/>
<circle cx="380" cy="464.70" r="14.4" stroke="#3a3a3a" stroke-width="0.9" fill="none"/>
<ellipse cx="380" cy="464.2" rx="18.400000000000002" ry="19.3" stroke="#3a3a3a" stroke-width="0.7" fill="none"/>
<ellipse cx="380" cy="464.2" rx="16.5" ry="17.4" stroke="#3a3a3a" stroke-width="0.7" fill="none"/>
<ellipse cx="380" cy="464.2" rx="14.5" ry="15.4" stroke="#3a3a3a" stroke-width="0.7" fill="none"/>
<circle cx="380" cy="464.2" r="11.9" stroke="#3a3a3a" stroke-width="1" fill="#fff"/>
<line x1="380.00" y1="441.30" x2="380.00" y2="487.70" stroke="#3a3a3a" stroke-width="0.9" />
<rect x="377.6" y="453.2" width="4.8" height="21.5" stroke="#3a3a3a" stroke-width="1" fill="#fff"/>
<rect x="374.0" y="456.7" width="2.4" height="13.6" stroke="#3a3a3a" stroke-width="0.9" fill="none"/>
<rect x="383.8" y="456.7" width="2.4" height="13.6" stroke="#3a3a3a" stroke-width="0.9" fill="none"/>
<line x1="372.00" y1="464.20" x2="388.00" y2="464.20" stroke="#3a3a3a" stroke-width="0.9" />
<line x1="380.00" y1="453.20" x2="380.00" y2="474.70" stroke="#3a3a3a" stroke-width="0.6" />
<circle cx="455" cy="464.2" r="20.2" stroke="#3a3a3a" stroke-width="1" fill="#fff"/>
<circle cx="455" cy="463.70" r="18.4" stroke="#3a3a3a" stroke-width="0.9" fill="none"/>
<circle cx="455" cy="464.20" r="16.5" stroke="#3a3a3a" stroke-width="0.9" fill="none"/>
<circle cx="455" cy="464.70" r="14.4" stroke="#3a3a3a" stroke-width="0.9" fill="none"/>
<ellipse cx="455" cy="464.2" rx="18.400000000000002" ry="19.3" stroke="#3a3a3a" stroke-width="0.7" fill="none"/>
<ellipse cx="455" cy="464.2" rx="16.5" ry="17.4" stroke="#3a3a3a" stroke-width="0.7" fill="none"/>
<ellipse cx="455" cy="464.2" rx="14.5" ry="15.4" stroke="#3a3a3a" stroke-width="0.7" fill="none"/>
<circle cx="455" cy="464.2" r="11.9" stroke="#3a3a3a" stroke-width="1" fill="#fff"/>
<line x1="455.00" y1="441.30" x2="455.00" y2="487.70" stroke="#3a3a3a" stroke-width="0.9" />
<rect x="452.6" y="453.2" width="4.8" height="21.5" stroke="#3a3a3a" stroke-width="1" fill="#fff"/>
<rect x="449.0" y="456.7" width="2.4" height="13.6" stroke="#3a3a3a" stroke-width="0.9" fill="none"/>
<rect x="458.8" y="456.7" width="2.4" height="13.6" stroke="#3a3a3a" stroke-width="0.9" fill="none"/>
<line x1="447.00" y1="464.20" x2="463.00" y2="464.20" stroke="#3a3a3a" stroke-width="0.9" />
<line x1="455.00" y1="453.20" x2="455.00" y2="474.70" stroke="#3a3a3a" stroke-width="0.6" />
<circle cx="530" cy="464.2" r="20.2" stroke="#3a3a3a" stroke-width="1" fill="#fff"/>
<circle cx="530" cy="463.70" r="18.4" stroke="#3a3a3a" stroke-width="0.9" fill="none"/>
<circle cx="530" cy="464.20" r="16.5" stroke="#3a3a3a" stroke-width="0.9" fill="none"/>
<circle cx="530" cy="464.70" r="14.4" stroke="#3a3a3a" stroke-width="0.9" fill="none"/>
<ellipse cx="530" cy="464.2" rx="18.400000000000002" ry="19.3" stroke="#3a3a3a" stroke-width="0.7" fill="none"/>
<ellipse cx="530" cy="464.2" rx="16.5" ry="17.4" stroke="#3a3a3a" stroke-width="0.7" fill="none"/>
<ellipse cx="530" cy="464.2" rx="14.5" ry="15.4" stroke="#3a3a3a" stroke-width="0.7" fill="none"/>
<circle cx="530" cy="464.2" r="11.9" stroke="#3a3a3a" stroke-width="1" fill="#fff"/>
<line x1="530.00" y1="441.30" x2="530.00" y2="487.70" stroke="#3a3a3a" stroke-width="0.9" />
<rect x="527.6" y="453.2" width="4.8" height="21.5" stroke="#3a3a3a" stroke-width="1" fill="#fff"/>
<rect x="524.0" y="456.7" width="2.4" height="13.6" stroke="#3a3a3a" stroke-width="0.9" fill="none"/>
<rect x="533.8" y="456.7" width="2.4" height="13.6" stroke="#3a3a3a" stroke-width="0.9" fill="none"/>
<line x1="522.00" y1="464.20" x2="538.00" y2="464.20" stroke="#3a3a3a" stroke-width="0.9" />
<line x1="530.00" y1="453.20" x2="530.00" y2="474.70" stroke="#3a3a3a" stroke-width="0.6" />
<circle cx="613.6" cy="463.8" r="14.5" stroke="#3a3a3a" stroke-width="1" fill="none"/>
<circle cx="613.6" cy="463.8" r="9.5" stroke="#3a3a3a" stroke-width="1" fill="none"/>
<line x1="613.60" y1="446.40" x2="613.60" y2="541.00" stroke="#3a3a3a" stroke-width="1.0" />
<line x1="146.20" y1="539.30" x2="613.60" y2="539.30" stroke="#3a3a3a" stroke-width="1.0" />
<path d="M146.20,539.30 L157.20,537.40 L157.20,541.20 Z" fill="#222" stroke="#222" stroke-width="0.3"/>
<path d="M613.60,539.30 L602.60,541.20 L602.60,537.40 Z" fill="#222" stroke="#222" stroke-width="0.3"/>
<text x="344.97" y="534.10" font-size="20" text-anchor="start" textLength="68.29" lengthAdjust="spacingAndGlyphs">100±0.1</text>
<line x1="584.70" y1="440.60" x2="653.20" y2="495.60" stroke="#3a3a3a" stroke-width="0.9" />
<path d="M601.10,454.10 L591.33,448.69 L593.71,445.73 Z" fill="#222" stroke="#222" stroke-width="0.3"/>
<path d="M625.20,474.40 L634.97,479.81 L632.59,482.77 Z" fill="#222" stroke="#222" stroke-width="0.3"/>
<line x1="653.20" y1="495.60" x2="683.00" y2="495.60" stroke="#3a3a3a" stroke-width="1.0" />
<line x1="661.90" y1="429.40" x2="586.60" y2="484.00" stroke="#3a3a3a" stroke-width="0.9" />
<path d="M621.50,456.50 L629.29,448.50 L631.52,451.58 Z" fill="#222" stroke="#222" stroke-width="0.3"/>
<path d="M602.00,472.40 L594.21,480.40 L591.98,477.32 Z" fill="#222" stroke="#222" stroke-width="0.3"/>
<line x1="661.90" y1="429.40" x2="690.00" y2="429.40" stroke="#3a3a3a" stroke-width="1.0" />
<ellipse cx="670.5" cy="417.05" rx="3.7" ry="4.0" stroke="#262626" stroke-width="1.5" fill="none"/>
<line x1="670.40" y1="408.30" x2="670.40" y2="425.70" stroke="#262626" stroke-width="1.5" />
<text x="676.20" y="425.50" font-size="20" text-anchor="start" textLength="11.12" lengthAdjust="spacingAndGlyphs">4</text>
<ellipse cx="664.1" cy="483.7" rx="3.45" ry="4.25" stroke="#262626" stroke-width="1.5" fill="none"/>
<line x1="664.30" y1="475.30" x2="664.30" y2="492.70" stroke="#262626" stroke-width="1.5" />
<text x="670.33" y="492.70" font-size="20" text-anchor="start" textLength="11.76" lengthAdjust="spacingAndGlyphs">6</text>
</svg></body></html>
